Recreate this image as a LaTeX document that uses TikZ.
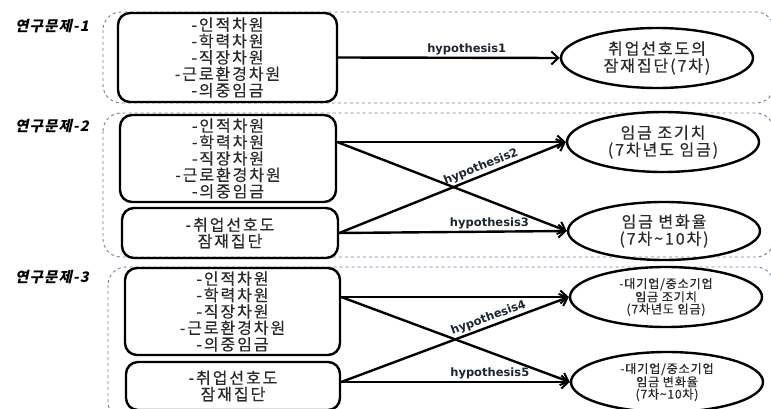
\documentclass[tikz,border=0pt]{standalone}
\usepackage{fontspec}
\setmainfont{Noto Sans CJK KR}
\newfontfamily\boxfont[LetterSpace=12,FakeBold=0.5]{Noto Sans CJK KR}
\newfontfamily\smallfont[LetterSpace=6,FakeBold=0.4]{Noto Sans CJK KR}
\newfontfamily\qfont[LetterSpace=8,FakeSlant=0.22]{Noto Sans CJK KR}
\newfontfamily\hypfont{DejaVu Sans}
\usetikzlibrary{shapes.geometric,arrows.meta}
\definecolor{panelblue}{HTML}{6A82A0}
\definecolor{inktext}{HTML}{2A2A2A}
\definecolor{hyptext}{HTML}{1E2533}

\begin{document}
\begin{tikzpicture}[x=1pt, y=-1pt,
    panel/.style={draw=panelblue, dashed, line width=0.9pt, rounded corners=18pt},
    varbox/.style={draw, line width=2.4pt, rounded corners=12pt, align=center, inner sep=0pt,
      font=\boxfont\fontsize{16}{16.4}\selectfont, text=inktext},
    outcome/.style={draw, ellipse, line width=2.4pt, align=center, inner sep=0pt,
      minimum width=192pt, minimum height=60pt, text=inktext,
      font=\boxfont\fontsize{16}{17}\selectfont},
    smalltext/.style={font=\smallfont\fontsize{12.2}{12.2}\selectfont},
    hyparrow/.style={line width=2.4pt, -{Straight Barb[length=7pt,width=13pt,line width=2pt]}},
    hyp/.style={font=\hypfont\bfseries\fontsize{11.5}{13}\selectfont, text=hyptext, above, inner sep=1.5pt},
    qlabel/.style={font=\qfont\bfseries\fontsize{14.5}{16}\selectfont}]
  \clip (0,0) rectangle (771,409);

  % research question panels
  \draw[panel] (103,12) rectangle (774,103);
  \draw[panel] (103,113) rectangle (774,257);
  \draw[panel] (108,267) rectangle (774,420);
  \node[qlabel] (q1) at (52,26) {연구문제-1};
  \node[qlabel] (q2) at (52,126) {연구문제-2};
  \node[qlabel] (q3) at (52,277) {연구문제-3};

  % question 1
  \node[varbox, minimum width=219pt, minimum height=89pt] (b1) at (227.5,57.5)
    {-인적차원\\-학력차원\\-직장차원\\-근로환경차원\\-의중임금};
  \node[outcome] (e1) at (657,58) {취업선호도의\\잠재집단(7차)};
  \draw[hyparrow] (b1.east) -- node[hyp, pos=0.58] {hypothesis1} (e1.west);

  % question 2
  \node[varbox, minimum width=216pt, minimum height=87pt] (b2a) at (228,158.5)
    {-인적차원\\-학력차원\\-직장차원\\-근로환경차원\\-의중임금};
  \node[varbox, minimum width=216pt, minimum height=50pt] (b2b) at (230,233)
    {-취업선호도\\잠재집단};
  \node[outcome] (e2a) at (663,142) {임금 조기치\\(7차년도 임금)};
  \node[outcome, minimum height=58pt] (e2b) at (664,231) {임금 변화율\\(7차\textasciitilde10차)};
  \coordinate (s2) at (b2a.east |- e2a.west);
  \draw[hyparrow] (s2) -- (e2a.west);
  \draw[hyparrow] (s2) -- (e2b.west);
  \draw[hyparrow] (b2b.east) -- node[hyp, sloped, pos=0.64] {hypothesis2} (e2a.west);
  \draw[hyparrow] (b2b.east) -- node[hyp, pos=0.66] {hypothesis3} (e2b.west);

  % question 3
  \node[varbox, minimum width=215pt, minimum height=87pt] (b3a) at (232.5,311.5)
    {-인적차원\\-학력차원\\-직장차원\\-근로환경차원\\-의중임금};
  \node[varbox, minimum width=214pt, minimum height=48pt] (b3b) at (233,386)
    {-취업선호도\\잠재집단};
  \node[outcome, smalltext] (e3a) at (666,297) {-대기업/중소기업\\임금 조기치\\(7차년도 임금)};
  \node[outcome, smalltext] (e3b) at (667,382) {-대기업/중소기업\\임금 변화율\\(7차\textasciitilde10차)};
  \coordinate (s3a) at (b3a.east |- e3a.west);
  \coordinate (s3b) at (b3b.east |- e3b.west);
  \draw[hyparrow] (s3a) -- (e3a.west);
  \draw[hyparrow] (s3a) -- (e3b.west);
  \draw[hyparrow] (s3b) -- node[hyp, sloped, pos=0.66] {hypothesis4} (e3a.west);
  \draw[hyparrow] (s3b) -- node[hyp, pos=0.65] {hypothesis5} (e3b.west);
\end{tikzpicture}
\end{document}
